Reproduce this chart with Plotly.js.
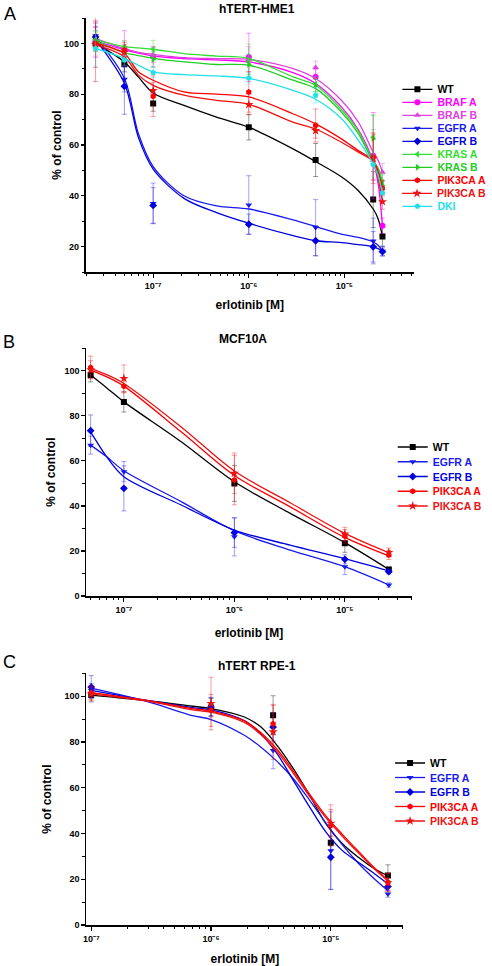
<!DOCTYPE html>
<html>
<head>
<meta charset="utf-8">
<script src="https://cdn.plot.ly/plotly-3.0.1.min.js"></script>
<style>html,body{margin:0;padding:0;background:#fff;}#chart{width:492px;height:966px;}</style>
</head>
<body>
<div id="chart"></div>
<script>
// ---------------- DATA ----------------
// Panel A: hTERT-HME1
const xA = [2.5e-8, 5e-8, 1e-7, 1e-6, 5e-6, 2e-5, 2.5e-5];
const fitXA = [2.5e-8, 5e-8, 7e-8, 1e-7, 2.1e-7, 4.6e-7, 1e-6, 2.9e-6, 5e-6, 9.3e-6, 1.4e-5, 2e-5, 2.25e-5, 2.5e-5];
const namesA = ['WT', 'BRAF A', 'BRAF B', 'EGFR A', 'EGFR B', 'KRAS A', 'KRAS B', 'PIK3CA A', 'PIK3CA B', 'DKI'];

const A_WT = [100, 91.8, 76.3, 67, 54.1, 38.5, 24];
const A_BRAF_A = [100.5, 98, 94.8, 94.5, 86.8, 55.8, 28.2];
const A_BRAF_B = [102, 98, 95.4, 93.7, 90.5, 56, 49.3];
const A_EGFR_A = [103, 85.9, 37, 36.4, 27.5, 22.2, 18.2];
const A_EGFR_B = [102.5, 83.1, 36.2, 28.8, 22.3, 19.9, 18];
const A_KRAS_A = [101.5, 98.5, 97.7, 92.7, 83.9, 63.1, 45.3];
const A_KRAS_B = [101, 97, 93.7, 91.7, 83.5, 62.5, 44];
const A_PIK3CA_A = [100, 97.3, 79.2, 80.9, 67.7, 55.3, 43];
const A_PIK3CA_B = [99.5, 96.5, 81.5, 75.9, 65.7, 54.8, 37.7];
const A_DKI = [98, 93.4, 88.5, 86.4, 79.6, 52.3, 41.1];

const A_WT_err = [3, 3, 3, 5, 6.5, 11, 4];
const A_BRAF_A_err = [6, 7, 4, 9.5, 3, 17, 3];
const A_BRAF_B_err = [7, 3, 3, 5, 2.5, 10, 3.5];
const A_EGFR_A_err = [5, 5, 8, 11.5, 11, 9, 2];
const A_EGFR_B_err = [4, 11, 7, 4, 6, 6, 1.5];
const A_KRAS_A_err = [3, 2.5, 3.5, 7, 3, 9, 3];
const A_KRAS_B_err = [4, 2, 3, 4, 2.5, 9, 2];
const A_PIK3CA_A_err = [15, 3, 8, 8, 6.5, 9, 3];
const A_PIK3CA_B_err = [9, 3, 3, 4, 3, 10, 3];
const A_DKI_err = [7, 2, 2, 2, 3, 5, 2];

const A_WT_fit = [100, 92.7, 86.8, 80.5, 75.6, 71, 67, 58.5, 53.5, 47.5, 42, 34.8, 31, 24];
const A_BRAF_A_fit = [101, 97.5, 96.2, 95.1, 94, 93.5, 92.7, 88.5, 84.2, 75, 66, 53.5, 45, 28.2];
const A_BRAF_B_fit = [102, 97.9, 96.5, 95.7, 94.4, 94, 93.7, 90.1, 86.2, 77.6, 69, 57.2, 54, 49.3];
const A_EGFR_A_fit = [102.5, 86.3, 64.5, 51.5, 40, 36, 34.8, 30.5, 27.9, 24.9, 23.6, 21.8, 20.5, 18.3];
const A_EGFR_B_fit = [101.5, 84.3, 63, 50.5, 39, 33.4, 29.2, 24.3, 22.3, 21.6, 20.8, 19.9, 19.2, 18.3];
const A_KRAS_A_fit = [101.5, 98.7, 98.2, 97.7, 96, 95, 94.1, 86.8, 83.5, 74, 65.5, 53.5, 51, 45.5];
const A_KRAS_B_fit = [101, 96.4, 95.2, 94.1, 92.7, 91.7, 91.4, 85.5, 82.2, 73, 64.5, 53, 50, 44.5];
const A_PIK3CA_A_fit = [100, 96, 88.8, 85.5, 80.9, 80, 78.9, 72.3, 68.3, 62.4, 57.8, 54, 49.5, 43];
const A_PIK3CA_B_fit = [99.5, 94.7, 87.5, 83.5, 79.6, 77.6, 76, 69, 66.3, 61.1, 57.2, 53.5, 47, 37.7];
const A_DKI_fit = [98, 94.1, 91.4, 88.8, 87.7, 87.2, 86.2, 81.5, 78, 70.4, 61.8, 52.5, 48, 41.1];

// Panel B: MCF10A
const xB = [5e-8, 1e-7, 1e-6, 1e-5, 2.5e-5];
const fitXB = [5e-8, 7e-8, 1e-7, 3.3e-7, 1e-6, 3.2e-6, 1e-5, 2.5e-5];
const namesB = ['WT', 'EGFR A', 'EGFR B', 'PIK3CA A', 'PIK3CA B'];

const B_WT = [98.1, 86.2, 50, 23.4, 11.8];
const B_EGFR_A = [67, 55.2, 26.3, 13, 4.9];
const B_EGFR_B = [73.4, 47.8, 28.1, 16.3, 10.8];
const B_PIK3CA_A = [101.5, 93.2, 51.5, 26.5, 18.2];
const B_PIK3CA_B = [100.5, 96.6, 54.5, 27.5, 19.3];

const B_WT_err = [3, 4.5, 8, 4, 1];
const B_EGFR_A_err = [4, 4.5, 8.5, 3.5, 1];
const B_EGFR_B_err = [7, 10, 6.5, 2, 1];
const B_PIK3CA_A_err = [5, 3, 11, 3, 2];
const B_PIK3CA_B_err = [4, 6, 9, 3, 2];

const B_WT_fit = [98.1, 92.4, 86.2, 68.5, 50.7, 36.7, 23.7, 11.8];
const B_EGFR_A_fit = [67, 61.8, 55.6, 41.9, 29, 20.4, 13, 4.9];
const B_EGFR_B_fit = [72.9, 61.8, 53, 40.4, 29.3, 22.6, 16.6, 11.1];
const B_PIK3CA_A_fit = [100.3, 97.3, 93.2, 72.9, 53.5, 39.6, 26, 17.8];
const B_PIK3CA_B_fit = [101, 98.3, 94.4, 75.1, 55.5, 41.4, 27.8, 19.2];

// Panel C: hTERT RPE-1
const xC = [1e-7, 1e-6, 3.3e-6, 1e-5, 3e-5];
const fitXC = [1e-7, 3e-7, 7e-7, 1e-6, 1.9e-6, 2.6e-6, 3.56e-6, 4.87e-6, 6.67e-6, 9.12e-6, 1.25e-5, 1.7e-5, 2.33e-5, 3e-5];
const namesC = ['WT', 'EGFR A', 'EGFR B', 'PIK3CA A', 'PIK3CA B'];

const C_WT = [100.5, 95, 91.7, 35.9, 21.6];
const C_EGFR_A = [102.5, 95.5, 76.3, 32.5, 13.6];
const C_EGFR_B = [104, 95.3, 86.5, 29.6, 16.8];
const C_PIK3CA_A = [101.5, 93.8, 88, 43.5, 18.7];
const C_PIK3CA_B = [101, 96.8, 84.4, 44.5, 18.5];

const C_WT_err = [3, 4, 8.5, 3, 4.7];
const C_EGFR_A_err = [3, 4, 8, 17, 1.5];
const C_EGFR_B_err = [5, 4, 6, 14, 1.5];
const C_PIK3CA_A_err = [3, 7, 8, 9, 4];
const C_PIK3CA_B_err = [3, 11.5, 12, 6, 4];

const C_WT_fit = [100.5, 98, 95.6, 94.6, 90.9, 86.6, 78.5, 68.3, 56.6, 44.2, 35.5, 29.6, 24.5, 21.6];
const C_EGFR_A_fit = [103.5, 97.5, 91.5, 89.8, 82.9, 77.8, 71.5, 63.9, 54.5, 44.5, 35, 27, 20, 15];
const C_EGFR_B_fit = [102.5, 98, 95, 94, 89.3, 83.7, 74.9, 63.2, 51.5, 40.6, 32.5, 27.4, 22.3, 18];
const C_PIK3CA_A_fit = [101.5, 98, 94.6, 93.5, 89.2, 84.1, 76.8, 67.3, 57.1, 47.6, 39.6, 32.2, 24.8, 19.6];
const C_PIK3CA_B_fit = [101, 97.7, 94, 93, 88.5, 83.3, 75.8, 66.3, 56.1, 46.8, 38.8, 31.5, 24.3, 19.2];

// tick labels of the log axes
const xTickVals = [1e-7, 1e-6, 1e-5];
const xTickText = ['10\u207B\u2077', '10\u207B\u2076', '10\u207B\u2075'];

// ---------------- STYLE ----------------
const FONT = 'Liberation Sans, Arial, Helvetica, sans-serif';
const STYLE = {
  'WT':       {color: '#000000', symbol: 'square'},
  'BRAF A':   {color: '#ff00ff', symbol: 'circle'},
  'BRAF B':   {color: '#e040e0', symbol: 'triangle-up'},
  'EGFR A':   {color: '#1a1aee', symbol: 'triangle-down'},
  'EGFR B':   {color: '#0000dd', symbol: 'diamond'},
  'KRAS A':   {color: '#33dd33', symbol: 'triangle-left'},
  'KRAS B':   {color: '#22cc22', symbol: 'triangle-right'},
  'PIK3CA A': {color: '#ff0000', symbol: 'hexagon'},
  'PIK3CA B': {color: '#ee1111', symbol: 'star'},
  'DKI':      {color: '#22e0e8', symbol: 'pentagon'}
};
function rgba(hex, a) {
  const n = parseInt(hex.slice(1), 16);
  return `rgba(${(n >> 16) & 255},${(n >> 8) & 255},${n & 255},${a})`;
}

const W = 492, H = 966;
const px = v => v / W;
const py = v => 1 - v / H;
const FONT_LEG = {family: FONT, size: 10.5, color: '#000', weight: 'bold'};

// one small legend per entry so that the rows can be as tight as in the reference
const legendLayouts = {};
let legendCount = 0;
function nextLegend(textX, rowY) {
  legendCount += 1;
  const id = legendCount === 1 ? 'legend' : 'legend' + legendCount;
  legendLayouts[id] = {
    x: px(textX - 36), y: py(rowY - 14.5), xanchor: 'left', yanchor: 'top', xref: 'paper', yref: 'paper',
    bgcolor: 'rgba(0,0,0,0)', borderwidth: 0, font: FONT_LEG
  };
  return id;
}

const traces = [];
function addSeries(name, xPts, yPts, errPts, xFit, yFit, xa, ya, legendId) {
  const st = STYLE[name];
  const msize = st.symbol === 'star' ? 7 : 6;
  traces.push({
    type: 'scatter', mode: 'lines', x: xFit, y: yFit, xaxis: xa, yaxis: ya,
    line: {color: st.color, width: 1.3, shape: 'spline', smoothing: 0.9},
    showlegend: false, hoverinfo: 'skip'
  });
  traces.push({
    type: 'scatter', mode: 'markers', x: xPts, y: yPts, xaxis: xa, yaxis: ya,
    marker: {color: st.color, symbol: st.symbol, size: msize, line: {width: 0}},
    error_y: {type: 'data', array: errPts, visible: true, color: rgba(st.color, 0.4), thickness: 1, width: 2.5},
    showlegend: false
  });
  // legend entry (line + marker sample, no data of its own)
  traces.push({
    type: 'scatter', mode: 'lines+markers', x: [null], y: [null], xaxis: xa, yaxis: ya,
    name: `<span style="color:${st.color}">${name}</span>`,
    line: {color: st.color, width: 1.3},
    marker: {color: st.color, symbol: st.symbol, size: msize, line: {width: 0}},
    legend: legendId, showlegend: true
  });
}

const dataA = {'WT': [A_WT, A_WT_err, A_WT_fit], 'BRAF A': [A_BRAF_A, A_BRAF_A_err, A_BRAF_A_fit],
  'BRAF B': [A_BRAF_B, A_BRAF_B_err, A_BRAF_B_fit], 'EGFR A': [A_EGFR_A, A_EGFR_A_err, A_EGFR_A_fit],
  'EGFR B': [A_EGFR_B, A_EGFR_B_err, A_EGFR_B_fit], 'KRAS A': [A_KRAS_A, A_KRAS_A_err, A_KRAS_A_fit],
  'KRAS B': [A_KRAS_B, A_KRAS_B_err, A_KRAS_B_fit], 'PIK3CA A': [A_PIK3CA_A, A_PIK3CA_A_err, A_PIK3CA_A_fit],
  'PIK3CA B': [A_PIK3CA_B, A_PIK3CA_B_err, A_PIK3CA_B_fit], 'DKI': [A_DKI, A_DKI_err, A_DKI_fit]};
const dataB = {'WT': [B_WT, B_WT_err, B_WT_fit], 'EGFR A': [B_EGFR_A, B_EGFR_A_err, B_EGFR_A_fit],
  'EGFR B': [B_EGFR_B, B_EGFR_B_err, B_EGFR_B_fit], 'PIK3CA A': [B_PIK3CA_A, B_PIK3CA_A_err, B_PIK3CA_A_fit],
  'PIK3CA B': [B_PIK3CA_B, B_PIK3CA_B_err, B_PIK3CA_B_fit]};
const dataC = {'WT': [C_WT, C_WT_err, C_WT_fit], 'EGFR A': [C_EGFR_A, C_EGFR_A_err, C_EGFR_A_fit],
  'EGFR B': [C_EGFR_B, C_EGFR_B_err, C_EGFR_B_fit], 'PIK3CA A': [C_PIK3CA_A, C_PIK3CA_A_err, C_PIK3CA_A_fit],
  'PIK3CA B': [C_PIK3CA_B, C_PIK3CA_B_err, C_PIK3CA_B_fit]};

namesA.forEach((n, i) => addSeries(n, xA, dataA[n][0], dataA[n][1], fitXA, dataA[n][2], 'x', 'y',
  nextLegend(442.5, 89.3 + i * 13.0)));
namesB.forEach((n, i) => addSeries(n, xB, dataB[n][0], dataB[n][1], fitXB, dataB[n][2], 'x2', 'y2',
  nextLegend(437.7, 447 + i * 14.75)));
namesC.forEach((n, i) => addSeries(n, xC, dataC[n][0], dataC[n][1], fitXC, dataC[n][2], 'x3', 'y3',
  nextLegend(435, 763 + i * 14.5)));

// ---------------- LAYOUT ----------------
function xAxis(domain, range, anchor, standoff) {
  return {
    type: 'log', domain: domain, range: range, anchor: anchor,
    showgrid: false, zeroline: false, showline: true, linecolor: '#000', linewidth: 1.6,
    ticks: 'outside', ticklen: 4.5, tickwidth: 1.2, tickcolor: '#000',
    tickmode: 'array', tickvals: xTickVals, ticktext: xTickText,
    tickfont: {family: FONT, size: 9, color: '#000', weight: 'bold'},
    minor: {ticks: 'outside', ticklen: 2.5, tickwidth: 1, tickcolor: '#000', dtick: 'D1', tickmode: 'linear', showgrid: false},
    title: {text: 'erlotinib [M]', font: {family: FONT, size: 12, color: '#000', weight: 'bold'}, standoff: standoff},
    automargin: false, mirror: false
  };
}
function yAxis(domain, range, anchor, standoff) {
  return {
    domain: domain, range: range, anchor: anchor,
    showgrid: false, zeroline: false, showline: true, linecolor: '#000', linewidth: 1.6,
    ticks: 'outside', ticklen: 3.5, tickwidth: 1.2, tickcolor: '#000',
    dtick: 20, tick0: 0,
    tickfont: {family: FONT, size: 9, color: '#000', weight: 'bold'},
    minor: {ticks: 'outside', ticklen: 2.5, tickwidth: 1, tickcolor: '#000', dtick: 10, showgrid: false},
    title: {text: '% of control', font: {family: FONT, size: 12, color: '#000', weight: 'bold'}, standoff: standoff},
    automargin: false, mirror: false
  };
}
function ann(text, x, y, size, bold) {
  return {text: text, x: px(x), y: py(y), xref: 'paper', yref: 'paper', showarrow: false,
    xanchor: 'center', yanchor: 'middle',
    font: {family: FONT, size: size, color: '#000', weight: bold ? 'bold' : 'normal'}};
}

const layout = Object.assign({
  width: W, height: H, margin: {l: 0, r: 0, t: 0, b: 0},
  paper_bgcolor: '#fff', plot_bgcolor: '#fff', font: {family: FONT, color: '#000'},
  xaxis: xAxis([px(88), px(423)], [-7.702, -4.277], 'y', 10),
  yaxis: yAxis([py(272), py(18)], [10, 110], 'x', 0),
  xaxis2: xAxis([px(88.3), px(421)], [-7.340, -4.396], 'y2', 14),
  yaxis2: yAxis([py(596), py(348.3)], [0, 110], 'x2', 6),
  xaxis3: xAxis([px(88.3), px(412.7)], [-7.041, -4.393], 'y3', 15),
  yaxis3: yAxis([py(925), py(673.3)], [0, 110], 'x3', 10),
  annotations: [
    ann('A', 10, 14, 18, false),
    ann('B', 9, 342, 18, false),
    ann('C', 10, 662, 18, false),
    ann('hTERT-HME1', 263, 8.5, 12, true),
    ann('MCF10A', 248.3, 339, 12, true),
    ann('hTERT RPE-1', 262.5, 665.5, 12, true)
  ],
  showlegend: true
}, legendLayouts);

Plotly.newPlot('chart', traces, layout, {staticPlot: true, displayModeBar: false, responsive: false});
</script>
</body>
</html>
